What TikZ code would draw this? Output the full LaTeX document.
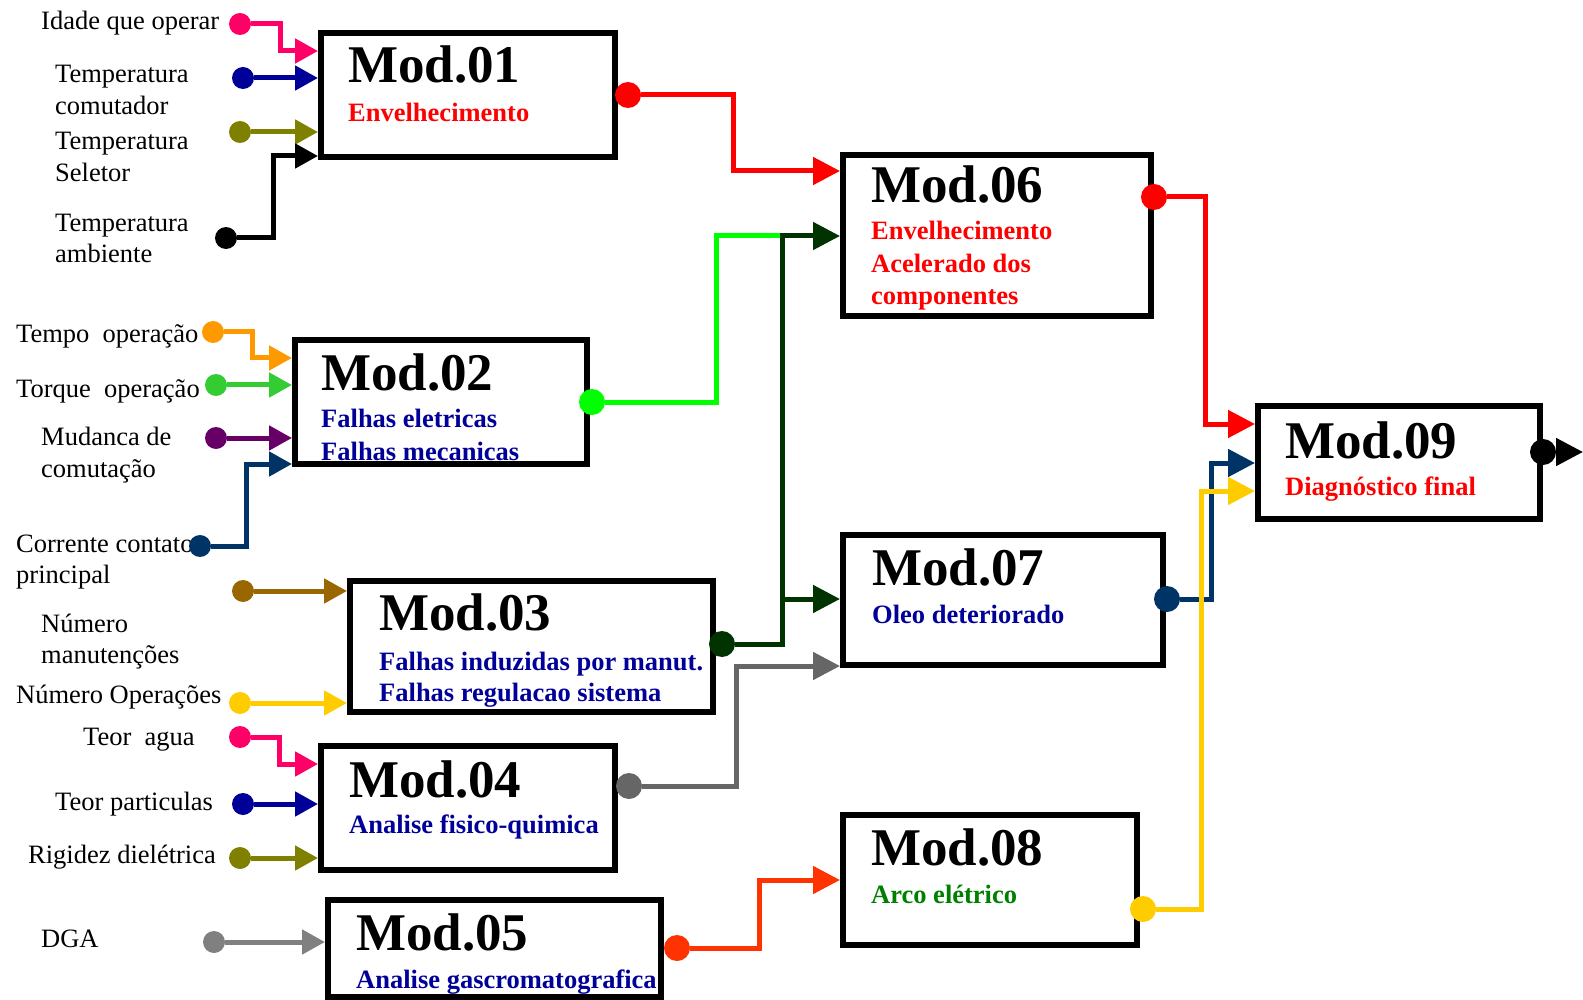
\documentclass[tikz,border=0pt]{standalone}
\usepackage{fontspec}
\setmainfont{Liberation Serif}
\usetikzlibrary{arrows.meta}

\definecolor{rosa}{HTML}{FF0066}
\definecolor{azul}{HTML}{000099}
\definecolor{oliva}{HTML}{808000}
\definecolor{laranja}{HTML}{FF9900}
\definecolor{verde}{HTML}{33CC33}
\definecolor{roxo}{HTML}{660066}
\definecolor{marinho}{HTML}{003366}
\definecolor{marrom}{HTML}{996600}
\definecolor{amarelo}{HTML}{FFCC00}
\definecolor{cinza}{HTML}{808080}
\definecolor{cinzaesc}{HTML}{666666}
\definecolor{vermelho}{HTML}{FF0000}
\definecolor{limao}{HTML}{00FF00}
\definecolor{verdeesc}{HTML}{003300}
\definecolor{laranjav}{HTML}{FF3300}
\definecolor{verdearco}{HTML}{008000}

\begin{document}
\begin{tikzpicture}[x=1pt, y=-1pt,
modbox/.style = {draw, line width=6pt, anchor=north west, inner sep=0pt},
ball/.style = {circle, inner sep=0pt, outer sep=0pt, minimum size=22pt},
bigball/.style = {ball, minimum size=26pt},
lbl/.style = {anchor=base west, inner sep=0pt, font=\fontsize{26.5}{32}\selectfont},
modname/.style = {anchor=base west, inner sep=0pt, font=\fontsize{53}{60}\selectfont\bfseries},
modsub/.style = {anchor=base west, inner sep=0pt, font=\fontsize{26.5}{32}\selectfont\bfseries},
feed/.style = {line width=5pt, -{Triangle[length=23pt,width=24pt]}},
link/.style = {line width=5pt, -{Triangle[length=27pt,width=27pt]}},
]
\useasboundingbox (0,0) rectangle (1583,1000);

% modulos
\node[modbox, minimum width=294pt, minimum height=124pt] (m1) at (318,30) {};
\node[modbox, minimum width=292pt, minimum height=124pt] (m2) at (292,337) {};
\node[modbox, minimum width=363pt, minimum height=131pt] (m3) at (347,578) {};
\node[modbox, minimum width=294pt, minimum height=124pt] (m4) at (318,743) {};
\node[modbox, minimum width=333pt, minimum height=97pt] (m5) at (325,897) {};
\node[modbox, minimum width=308pt, minimum height=161pt] (m6) at (840,152) {};
\node[modbox, minimum width=320pt, minimum height=130pt] (m7) at (840,532) {};
\node[modbox, minimum width=294pt, minimum height=130pt] (m8) at (840,812) {};
\node[modbox, minimum width=282pt, minimum height=113pt] (m9) at (1255,403) {};

% variaveis de entrada
\node[lbl] (l1) at (41,30) {Idade que operar};
\node[lbl] (l2) at (55,83) {Temperatura};
\node[lbl] (l2b) at (55,115) {comutador};
\node[lbl] (l3) at (55,150) {Temperatura};
\node[lbl] (l3b) at (55,182) {Seletor};
\node[lbl] (l4) at (55,232) {Temperatura};
\node[lbl] (l4b) at (55,263) {ambiente};
\node[lbl] (l5) at (16,343) {Tempo\ \ operação};
\node[lbl] (l6) at (16,397) {Torque\ \ operação};
\node[lbl] (l7) at (41,445) {Mudanca de};
\node[lbl] (l7b) at (41,477) {comutação};
\node[lbl] (l8) at (16,552) {Corrente contato};
\node[lbl] (l8b) at (16,583) {principal};
\node[lbl] (l9) at (41,632) {Número};
\node[lbl] (l9b) at (41,663) {manutenções};
\node[lbl] (l10) at (16,703) {Número Operações};
\node[lbl] (l11) at (83,745) {Teor\ \ agua};
\node[lbl] (l12) at (55,810) {Teor particulas};
\node[lbl] (l13) at (28,863) {Rigidez dielétrica};
\node[lbl] (l14) at (41,947) {DGA};

\node[ball, fill=rosa] (i1) at (240,24) {};
\node[ball, fill=azul] (i2) at (243,78) {};
\node[ball, fill=oliva] (i3) at (240,132) {};
\node[ball, fill=black] (i4) at (226,238) {};
\node[ball, fill=laranja] (i5) at (213,332) {};
\node[ball, fill=verde] (i6) at (216,385) {};
\node[ball, fill=roxo] (i7) at (216,438) {};
\node[ball, fill=marinho] (i8) at (200,546) {};
\node[ball, fill=marrom] (i9) at (243,591) {};
\node[ball, fill=amarelo] (i10) at (240,703) {};
\node[ball, fill=rosa] (i11) at (240,737) {};
\node[ball, fill=azul] (i12) at (243,804) {};
\node[ball, fill=oliva] (i13) at (240,858) {};
\node[ball, fill=cinza] (i14) at (214,942) {};

\draw[feed, rosa] (i1) -| (280,51) -- (m1.west |- 0,51);
\draw[feed, azul] (i2) -- (m1.west |- i2);
\draw[feed, oliva] (i3) -- (m1.west |- i3);
\draw[feed, black] (i4) -| (273,156) -- (m1.west |- 0,156);
\draw[feed, laranja] (i5) -| (252,358) -- (m2.west |- 0,358);
\draw[feed, verde] (i6) -- (m2.west |- i6);
\draw[feed, roxo] (i7) -- (m2.west |- i7);
\draw[feed, marinho] (i8) -| (246,464) -- (m2.west |- 0,464);
\draw[feed, marrom] (i9) -- (m3.west |- i9);
\draw[feed, amarelo] (i10) -- (m3.west |- i10);
\draw[feed, rosa] (i11) -| (279,764) -- (m4.west |- 0,764);
\draw[feed, azul] (i12) -- (m4.west |- i12);
\draw[feed, oliva] (i13) -- (m4.west |- i13);
\draw[feed, cinza] (i14) -- (m5.west |- i14);

% saidas
\node[bigball, fill=vermelho] (o1) at (628,95) {};
\node[bigball, fill=limao] (o2) at (592,402) {};
\node[bigball, fill=verdeesc] (o3) at (722,644) {};
\node[bigball, fill=cinzaesc] (o4) at (629,786) {};
\node[bigball, fill=laranjav] (o5) at (677,948) {};
\node[bigball, fill=vermelho] (o6) at (1154,197) {};
\node[bigball, fill=marinho] (o7) at (1167,599) {};
\node[bigball, fill=amarelo] (o8) at (1143,909) {};
\node[bigball, fill=black] (o9) at (1543,452) {};
\coordinate (j6) at (782,236);
\coordinate (j7) at (782,599);
\coordinate (fim) at (1583,452);

\draw[link, vermelho] (o1) -| (733,171) -- (m6.west |- 0,171);
\draw[line width=5pt, limao] (o2) -| (716,236) -- (j6);
\draw[link, verdeesc] (o3) -| (j6) -- (m6.west |- j6);
\draw[link, verdeesc] (j7) -- (m7.west |- j7);
\draw[link, cinzaesc] (o4) -| (736,666) -- (m7.west |- 0,666);
\draw[link, laranjav] (o5) -| (759,880) -- (m8.west |- 0,880);
\draw[link, vermelho] (o6) -| (1205,424) -- (m9.west |- 0,424);
\draw[link, marinho] (o7) -| (1211,463) -- (m9.west |- 0,463);
\draw[link, amarelo] (o8) -| (1201,491) -- (m9.west |- 0,491);
\draw[link, black] (o9) -- (fim);

% textos dos modulos
\node[modname] (n1) at (348,83) {Mod.01};
\node[modsub, text=vermelho] (s1) at (348,122) {Envelhecimento};
\node[modname] (n2) at (321,390) {Mod.02};
\node[modsub, text=azul] (s2) at (321,428) {Falhas eletricas};
\node[modsub, text=azul] (s2b) at (321,460) {Falhas mecanicas};
\node[modname] (n3) at (379,630) {Mod.03};
\node[modsub, text=azul] (s3) at (379,670) {Falhas induzidas por manut.};
\node[modsub, text=azul] (s3b) at (379,701) {Falhas regulacao sistema};
\node[modname] (n4) at (349,797) {Mod.04};
\node[modsub, text=azul] (s4) at (349,833) {Analise fisico-quimica};
\node[modname] (n5) at (356,950) {Mod.05};
\node[modsub, text=azul] (s5) at (356,988) {Analise gascromatografica};
\node[modname] (n6) at (871,203) {Mod.06};
\node[modsub, text=vermelho] (s6) at (871,240) {Envelhecimento};
\node[modsub, text=vermelho] (s6b) at (871,273) {Acelerado dos};
\node[modsub, text=vermelho] (s6c) at (871,305) {componentes};
\node[modname] (n7) at (872,585) {Mod.07};
\node[modsub, text=azul] (s7) at (872,623) {Oleo deteriorado};
\node[modname] (n8) at (871,865) {Mod.08};
\node[modsub, text=verdearco] (s8) at (871,903) {Arco elétrico};
\node[modname] (n9) at (1285,458) {Mod.09};
\node[modsub, text=vermelho] (s9) at (1285,495) {Diagnóstico final};
\end{tikzpicture}
\end{document}
